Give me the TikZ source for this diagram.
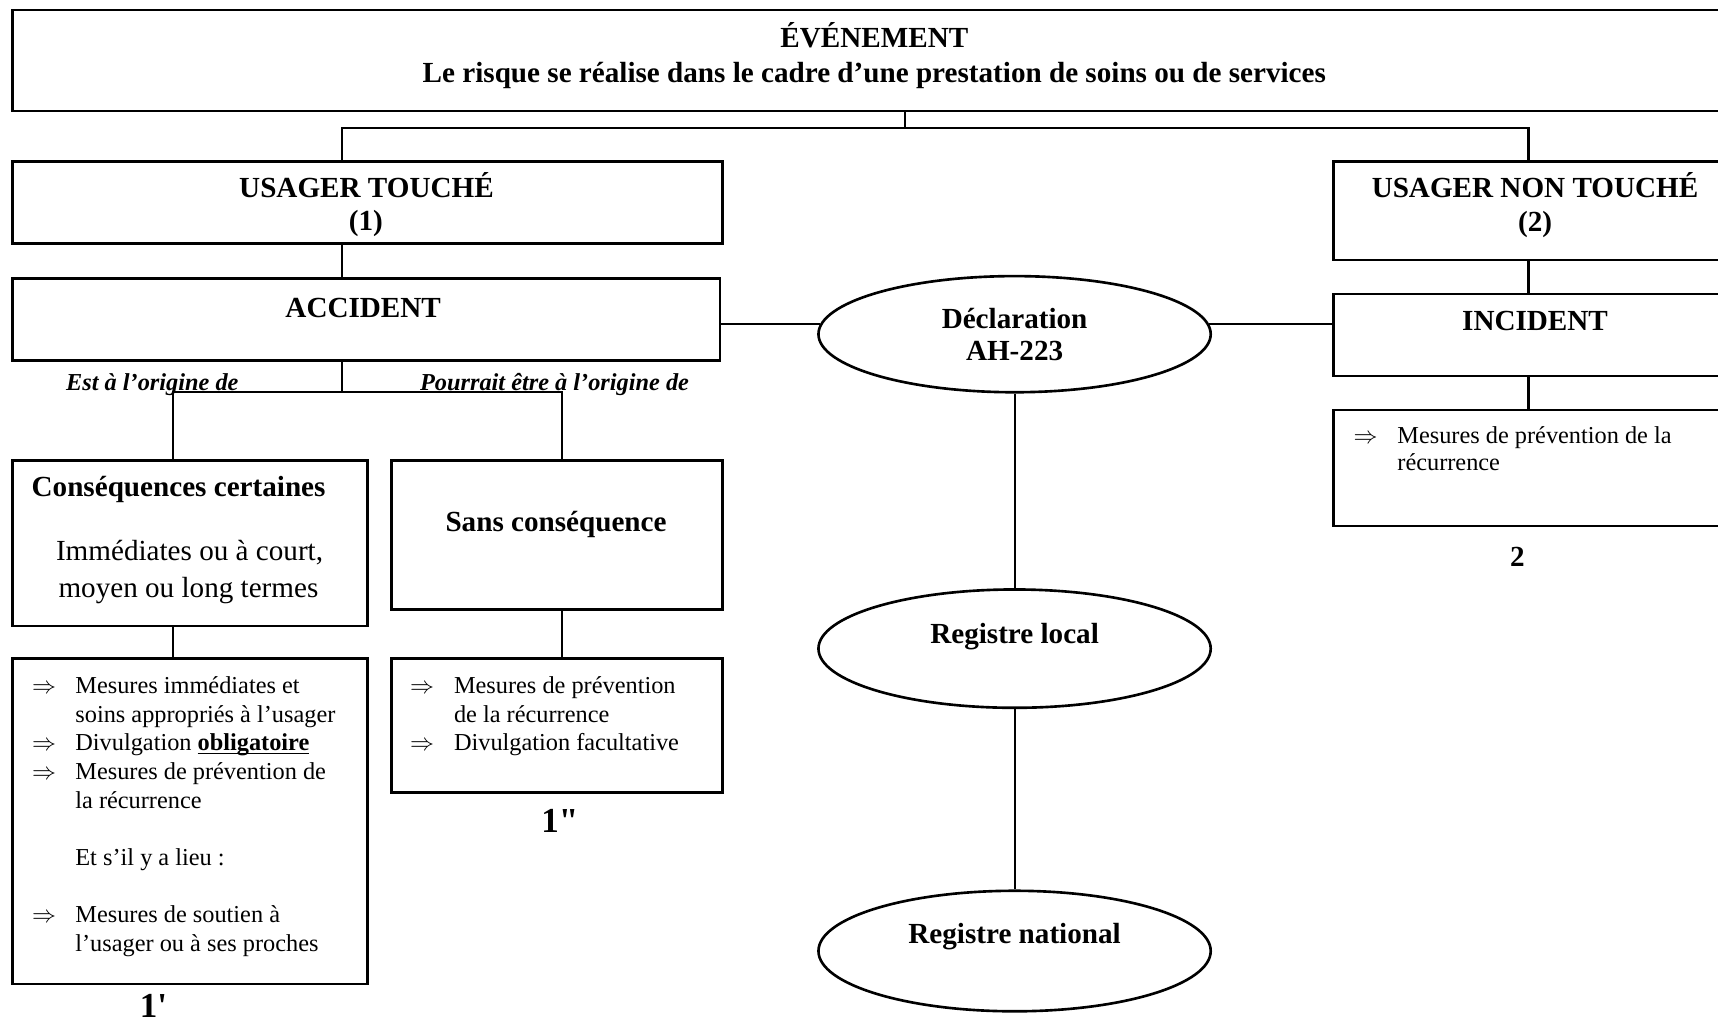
\documentclass[tikz,border=0pt]{standalone}
\usepackage{fontspec}
\setmainfont{Liberation Serif}
\usetikzlibrary{shapes.geometric}
\begin{document}
\begin{tikzpicture}[x=0.5pt,y=-0.5pt,
  box/.style={draw, line width=1.2pt, rectangle, inner sep=0pt, anchor=north west},
  oval/.style={draw, line width=1.2pt, ellipse, inner sep=0pt, minimum width=179pt},
  link/.style={line width=1pt},
  hd/.style={font=\fontsize{13.3}{15}\selectfont\bfseries, inner sep=0pt, anchor=base},
  rg/.style={font=\fontsize{13.3}{15}\selectfont, inner sep=0pt, anchor=base},
  sm/.style={font=\fontsize{11.1}{13.1}\selectfont, inner sep=0pt, anchor=base west},
  itl/.style={font=\fontsize{11.1}{13.1}\selectfont\bfseries\itshape, inner sep=0pt, anchor=base west},
  num/.style={font=\fontsize{16}{18}\selectfont\bfseries, inner sep=0pt, anchor=base},
]
\useasboundingbox (0,0) rectangle (1568,936.4);

% boxes
\node[box, minimum width=788pt, minimum height=46pt] (ev) at (10,8) {};
\node[box, minimum width=324pt, minimum height=37.5pt] (ut) at (10,146) {};
\node[box, minimum width=323pt, minimum height=37.5pt] (acc) at (10,253) {};
\node[box, minimum width=185pt, minimum height=45pt] (unt) at (1216,146) {};
\node[box, minimum width=185pt, minimum height=37.5pt] (inc) at (1216,267) {};
\node[box, minimum width=185pt, minimum height=53pt] (incm) at (1216,373) {};
\node[box, minimum width=162pt, minimum height=75.5pt] (cc) at (10,419) {};
\node[box, minimum width=151pt, minimum height=68pt] (sc) at (356,419) {};
\node[box, minimum width=162pt, minimum height=148.5pt] (m1) at (10,600) {};
\node[box, minimum width=151pt, minimum height=61pt] (m2) at (356,600) {};

% ellipses
\node[oval, minimum height=53pt] (decl) at (926,305) {};
\node[oval, minimum height=54pt] (rl) at (926,592) {};
\node[oval, minimum height=55pt] (rn) at (926,868) {};

% junctions
\coordinate (j0) at (826,117);
\coordinate (jL) at (312,117);
\coordinate (jR) at (1395,117);
\coordinate (b0) at (312,358);
\coordinate (bL) at (158,358);
\coordinate (bR) at (513,358);

% connectors
\draw[link] (ev.south -| j0) -- (j0);
\draw[link] (ut.north -| jL) -- (jL) -- (jR) -- (unt.north -| jR);
\draw[link] (ut.south -| jL) -- (acc.north -| jL);
\draw[link] (acc.south -| b0) -- (b0);
\draw[link] (cc.north -| bL) -- (bL) -- (bR) -- (sc.north -| bR);
\draw[link] (cc.south -| bL) -- (m1.north -| bL);
\draw[link] (sc.south -| bR) -- (m2.north -| bR);
\draw[link] (unt.south -| jR) -- (inc.north -| jR);
\draw[link] (inc.south -| jR) -- (incm.north -| jR);
\draw[link] (decl.177) -- (decl.177 -| acc.east);
\draw[link] (decl.3) -- (decl.3 -| inc.west);
\draw[link] (decl.south) -- (rl.north);
\draw[link] (rl.south) -- (rn.north);

% texts
\node[hd] (t1) at (798,43.5) {ÉVÉNEMENT};
\node[hd] (t2) at (798,75.5) {Le risque se réalise dans le cadre d’une prestation de soins ou de services};
\node[hd] (t3) at (334.5,180) {USAGER TOUCHÉ};
\node[hd] (t4) at (334,210) {(1)};
\node[hd] (t5) at (1401,180) {USAGER NON TOUCHÉ};
\node[hd] (t6) at (1401,211) {(2)};
\node[hd] (t7) at (331.5,289.5) {ACCIDENT};
\node[hd] (t8) at (1401,302) {INCIDENT};
\node[hd] (t9) at (926,299.5) {Déclaration};
\node[hd] (t10) at (926,329) {AH-223};
\node[hd] (t11) at (926,587.5) {Registre local};
\node[hd] (t12) at (926,861.5) {Registre national};
\node[hd] (t13) at (163,453) {Conséquences certaines};
\node[rg] (t14) at (173,512) {Immédiates ou à court,};
\node[rg] (t15) at (172,545) {moyen ou long termes};
\node[hd] (t16) at (507.5,485) {Sans conséquence};
\node[itl] (t17) at (60,356) {Est à l’origine de};
\node[itl] (t18) at (383,356) {Pourrait être à l’origine de};
\node[num] (n1) at (140,929) {1\textquotesingle};
\node[num] (n2) at (511,760) {1\textquotedbl};
\node[hd] (n3) at (1385,517) {2};

% lists
\node[sm] (l1) at (29,632.8) {\begin{tabular}[t]{@{}p{19.7pt}@{}l@{}}
$\Rightarrow$ & Mesures immédiates et\\
 & soins appropriés à l’usager\\
$\Rightarrow$ & Divulgation \sbox0{\textbf{obligatoire}}\usebox0\llap{\rule[-1.6pt]{\wd0}{0.7pt}}\\
$\Rightarrow$ & Mesures de prévention de\\
 & la récurrence\\
 & \\
 & Et s’il y a lieu :\\
 & \\
$\Rightarrow$ & Mesures de soutien à\\
 & l’usager ou à ses proches
\end{tabular}};
\node[sm] (l2) at (374,632.8) {\begin{tabular}[t]{@{}p{20pt}@{}l@{}}
$\Rightarrow$ & Mesures de prévention\\
 & de la récurrence\\
$\Rightarrow$ & Divulgation facultative
\end{tabular}};
\node[sm, font=\fontsize{11.1}{12.5}\selectfont] (l3) at (1235,404.6) {\begin{tabular}[t]{@{}p{20pt}@{}l@{}}
$\Rightarrow$ & Mesures de prévention de la\\
 & récurrence
\end{tabular}};
\end{tikzpicture}
\end{document}
